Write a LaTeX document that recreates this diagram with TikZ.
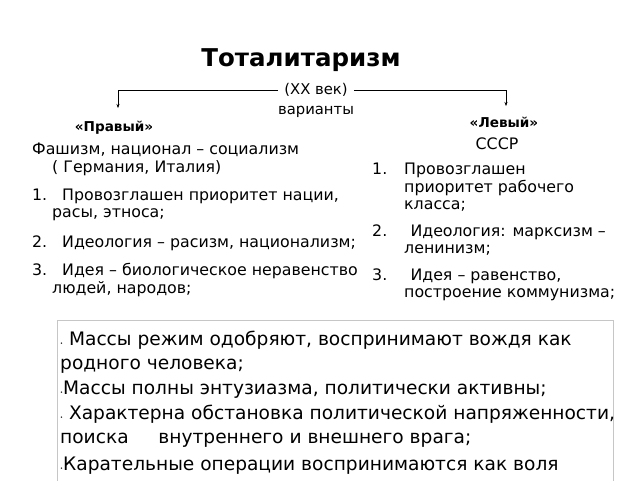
\documentclass[tikz,border=0pt]{standalone}
\usepackage{fontspec}
\setmainfont{DejaVu Sans}
\usetikzlibrary{arrows.meta}
\tikzset{
	txt/.style={anchor=west, inner sep=0pt, font=\fontsize{15.8}{18}\selectfont},
	boxtxt/.style={anchor=west, inner sep=0pt, font=\fontsize{18.6}{21}\selectfont},
	hdr/.style={inner sep=0pt, font=\bfseries\fontsize{13.6}{16}\selectfont},
}
\newcommand{\numl}[1]{\makebox[30pt][l]{#1}}
\newcommand{\numr}[1]{\makebox[32pt][l]{#1}}
\begin{document}
\begin{tikzpicture}[x=1pt, y=-1pt]
		\useasboundingbox (0, 0) rectangle (640, 480);
		
		\node[inner sep=0pt, font=\bfseries\fontsize{24.5}{28}\selectfont] (title) at (301, 60) {Тоталитаризм};
		\node[inner sep=6pt, font=\fontsize{14.8}{17}\selectfont] (vek) at (316, 90) {(XX век)};
		\node[inner sep=0pt, font=\fontsize{14.8}{17}\selectfont] (var) at (316, 112) {варианты};
		
		\node[hdr] (prav) at (114, 128) {«Правый»};
		\node[hdr] (lev) at (504, 122) {«Левый»};
		\coordinate (pravtop) at (118, 108);
		\coordinate (levtop) at (506, 106);
		
		\draw[-{Stealth[length=4pt, width=3pt]}] (vek.west) -| (pravtop);
		\draw[-{Stealth[length=4pt, width=3pt]}] (vek.east) -| (levtop);
		
		% left column
		\node[txt] (l1) at (32, 150) {Фашизм, национал – социализм};
		\node[txt] (l2) at (52, 168) {( Германия, Италия)};
		\node[txt] (l3) at (32, 196) {\numl{1.}Провозглашен приоритет нации,};
		\node[txt] (l4) at (52, 215) {расы, этноса;};
		\node[txt] (l5) at (32, 243) {\numl{2.}Идеология – расизм, национализм;};
		\node[txt] (l6) at (32, 271) {\numl{3.}Идея – биологическое неравенство};
		\node[txt] (l7) at (52, 289) {людей, народов;};
		
		% right column
		\node[inner sep=0pt, font=\fontsize{15.8}{18}\selectfont] (sssr) at (497, 144) {СССР};
		\node[txt] (r1) at (372, 170) {\numr{1.}Провозглашен};
		\node[txt] (r2) at (404, 188) {приоритет рабочего};
		\node[txt] (r3) at (404, 206) {класса;};
		\node[txt] (r4) at (372, 232) {\numr{2.}\hspace{0.4em}Идеология: марксизм –};
		\node[txt] (r5) at (404, 250) {ленинизм;};
		\node[txt] (r6) at (372, 276) {\numr{3.}\hspace{0.4em}Идея – равенство,};
		\node[txt] (r7) at (404, 295) {построение коммунизма;};
		
		% bottom box
		\draw[gray!45] (57, 490) -- (57, 320) -- (613, 320) -- (613, 490);
		\node[boxtxt] (b1) at (60, 340) {{\tiny\textbullet}\ Массы режим одобряют, воспринимают вождя как};
		\node[boxtxt] (b2) at (60, 366) {родного человека;};
		\node[boxtxt] (b3) at (60, 390) {{\tiny\textbullet}Массы полны энтузиазма, политически активны;};
		\node[boxtxt] (b4) at (60, 414) {{\tiny\textbullet}\ Характерна обстановка политической напряженности,};
		\node[boxtxt] (b5) at (60, 440) {поиска\hspace{1.6em}внутреннего и внешнего врага;};
		\node[boxtxt] (b6) at (60, 466) {{\tiny\textbullet}Карательные операции воспринимаются как воля};
\end{tikzpicture}
\end{document}
